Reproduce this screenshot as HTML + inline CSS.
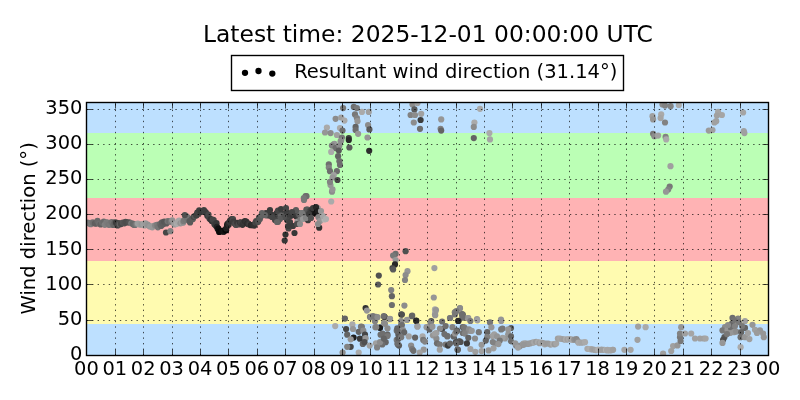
<!DOCTYPE html>
<html><head><meta charset="utf-8"><title>Wind direction</title><style>html,body{margin:0;padding:0;background:#fff;width:800px;height:400px;overflow:hidden}</style></head><body>
<svg width="800" height="400" viewBox="0 0 800 400" style="position:absolute;left:0;top:0">
<rect width="800" height="400" fill="#fff"/>
<defs><clipPath id="ax"><rect x="86.5" y="102.5" width="682" height="253"/></clipPath></defs>
<rect x="86" y="324.00" width="683" height="32.00" fill="#bde0ff"/>
<rect x="86" y="261.00" width="683" height="63.00" fill="#fffbb0"/>
<rect x="86" y="198.00" width="683" height="63.00" fill="#ffb3b4"/>
<rect x="86" y="133.00" width="683" height="65.00" fill="#bbffb5"/>
<rect x="86" y="102.00" width="683" height="31.00" fill="#bde0ff"/>
<g clip-path="url(#ax)">
<circle cx="86.8" cy="222.5" r="3.1" fill="rgb(126,126,126)"/>
<circle cx="88.4" cy="222.8" r="3.1" fill="rgb(117,117,117)"/>
<circle cx="89.3" cy="223.6" r="3.1" fill="rgb(120,120,120)"/>
<circle cx="90.8" cy="224.2" r="3.1" fill="rgb(124,124,124)"/>
<circle cx="92.6" cy="222.3" r="3.1" fill="rgb(116,116,116)"/>
<circle cx="93.4" cy="222.9" r="3.1" fill="rgb(110,110,110)"/>
<circle cx="95.0" cy="223.4" r="3.1" fill="rgb(94,94,94)"/>
<circle cx="96.0" cy="223.6" r="3.1" fill="rgb(95,95,95)"/>
<circle cx="97.5" cy="220.9" r="3.1" fill="rgb(105,105,105)"/>
<circle cx="99.0" cy="223.6" r="3.1" fill="rgb(109,109,109)"/>
<circle cx="100.7" cy="224.5" r="3.1" fill="rgb(97,97,97)"/>
<circle cx="102.2" cy="222.8" r="3.1" fill="rgb(110,110,110)"/>
<circle cx="103.8" cy="221.5" r="3.1" fill="rgb(106,106,106)"/>
<circle cx="104.8" cy="224.8" r="3.1" fill="rgb(128,128,128)"/>
<circle cx="106.4" cy="222.3" r="3.1" fill="rgb(125,125,125)"/>
<circle cx="107.4" cy="222.6" r="3.1" fill="rgb(122,122,122)"/>
<circle cx="108.8" cy="224.8" r="3.1" fill="rgb(119,119,119)"/>
<circle cx="110.3" cy="224.7" r="3.1" fill="rgb(121,121,121)"/>
<circle cx="111.6" cy="222.1" r="3.1" fill="rgb(113,113,113)"/>
<circle cx="113.4" cy="225.0" r="3.1" fill="rgb(101,101,101)"/>
<circle cx="114.7" cy="222.4" r="3.1" fill="rgb(92,92,92)"/>
<circle cx="116.1" cy="222.7" r="3.1" fill="rgb(59,59,59)"/>
<circle cx="117.6" cy="225.4" r="3.1" fill="rgb(66,66,66)"/>
<circle cx="118.9" cy="223.2" r="3.1" fill="rgb(74,74,74)"/>
<circle cx="119.8" cy="224.5" r="3.1" fill="rgb(98,98,98)"/>
<circle cx="121.0" cy="223.9" r="3.1" fill="rgb(72,72,72)"/>
<circle cx="122.8" cy="222.7" r="3.1" fill="rgb(85,85,85)"/>
<circle cx="124.4" cy="223.3" r="3.1" fill="rgb(81,81,81)"/>
<circle cx="125.6" cy="221.8" r="3.1" fill="rgb(77,77,77)"/>
<circle cx="127.1" cy="222.4" r="3.1" fill="rgb(77,77,77)"/>
<circle cx="129.3" cy="222.4" r="3.1" fill="rgb(84,84,84)"/>
<circle cx="131.3" cy="223.3" r="3.1" fill="rgb(121,121,121)"/>
<circle cx="132.7" cy="223.7" r="3.1" fill="rgb(105,105,105)"/>
<circle cx="133.7" cy="224.8" r="3.1" fill="rgb(105,105,105)"/>
<circle cx="135.0" cy="224.9" r="3.1" fill="rgb(110,110,110)"/>
<circle cx="136.5" cy="224.1" r="3.1" fill="rgb(128,128,128)"/>
<circle cx="137.8" cy="223.6" r="3.1" fill="rgb(158,158,158)"/>
<circle cx="139.5" cy="224.5" r="3.1" fill="rgb(158,158,158)"/>
<circle cx="140.7" cy="224.5" r="3.1" fill="rgb(153,153,153)"/>
<circle cx="142.1" cy="224.5" r="3.1" fill="rgb(149,149,149)"/>
<circle cx="143.4" cy="224.2" r="3.1" fill="rgb(160,160,160)"/>
<circle cx="144.5" cy="225.5" r="3.1" fill="rgb(159,159,159)"/>
<circle cx="145.6" cy="223.3" r="3.1" fill="rgb(154,154,154)"/>
<circle cx="147.7" cy="224.7" r="3.1" fill="rgb(148,148,148)"/>
<circle cx="148.7" cy="225.6" r="3.1" fill="rgb(146,146,146)"/>
<circle cx="149.9" cy="226.5" r="3.1" fill="rgb(152,152,152)"/>
<circle cx="151.2" cy="226.5" r="3.1" fill="rgb(154,154,154)"/>
<circle cx="152.3" cy="227.3" r="3.1" fill="rgb(152,152,152)"/>
<circle cx="153.8" cy="225.9" r="3.1" fill="rgb(152,152,152)"/>
<circle cx="155.1" cy="225.5" r="3.1" fill="rgb(135,135,135)"/>
<circle cx="156.8" cy="224.8" r="3.1" fill="rgb(124,124,124)"/>
<circle cx="157.9" cy="227.3" r="3.1" fill="rgb(118,118,118)"/>
<circle cx="159.8" cy="224.0" r="3.1" fill="rgb(106,106,106)"/>
<circle cx="161.1" cy="226.0" r="3.1" fill="rgb(98,98,98)"/>
<circle cx="161.9" cy="222.4" r="3.1" fill="rgb(94,94,94)"/>
<circle cx="163.1" cy="224.3" r="3.1" fill="rgb(94,94,94)"/>
<circle cx="164.2" cy="221.7" r="3.1" fill="rgb(87,87,87)"/>
<circle cx="166.4" cy="223.4" r="3.1" fill="rgb(91,91,91)"/>
<circle cx="167.7" cy="221.2" r="3.1" fill="rgb(117,117,117)"/>
<circle cx="169.3" cy="221.4" r="3.1" fill="rgb(108,108,108)"/>
<circle cx="170.9" cy="221.7" r="3.1" fill="rgb(120,120,120)"/>
<circle cx="172.2" cy="220.4" r="3.1" fill="rgb(145,145,145)"/>
<circle cx="174.3" cy="224.4" r="3.1" fill="rgb(158,158,158)"/>
<circle cx="175.7" cy="224.1" r="3.1" fill="rgb(156,156,156)"/>
<circle cx="176.9" cy="223.8" r="3.1" fill="rgb(170,170,170)"/>
<circle cx="178.0" cy="221.7" r="3.1" fill="rgb(166,166,166)"/>
<circle cx="179.1" cy="220.7" r="3.1" fill="rgb(165,165,165)"/>
<circle cx="180.5" cy="223.3" r="3.1" fill="rgb(145,145,145)"/>
<circle cx="182.3" cy="222.7" r="3.1" fill="rgb(160,160,160)"/>
<circle cx="183.3" cy="222.5" r="3.1" fill="rgb(141,141,141)"/>
<circle cx="183.6" cy="220.9" r="3.1" fill="rgb(122,122,122)"/>
<circle cx="184.8" cy="219.6" r="3.1" fill="rgb(120,120,120)"/>
<circle cx="185.6" cy="219.7" r="3.1" fill="rgb(119,119,119)"/>
<circle cx="186.2" cy="216.1" r="3.1" fill="rgb(122,122,122)"/>
<circle cx="187.0" cy="217.1" r="3.1" fill="rgb(106,106,106)"/>
<circle cx="187.5" cy="217.4" r="3.1" fill="rgb(115,115,115)"/>
<circle cx="188.2" cy="219.6" r="3.1" fill="rgb(115,115,115)"/>
<circle cx="189.5" cy="221.0" r="3.1" fill="rgb(90,90,90)"/>
<circle cx="190.1" cy="222.4" r="3.1" fill="rgb(89,89,89)"/>
<circle cx="191.8" cy="219.1" r="3.1" fill="rgb(90,90,90)"/>
<circle cx="192.9" cy="219.1" r="3.1" fill="rgb(91,91,91)"/>
<circle cx="193.6" cy="216.8" r="3.1" fill="rgb(71,71,71)"/>
<circle cx="194.7" cy="216.1" r="3.1" fill="rgb(86,86,86)"/>
<circle cx="196.3" cy="215.4" r="3.1" fill="rgb(70,70,70)"/>
<circle cx="196.4" cy="215.0" r="3.1" fill="rgb(66,66,66)"/>
<circle cx="197.1" cy="214.8" r="3.1" fill="rgb(66,66,66)"/>
<circle cx="197.3" cy="212.6" r="3.1" fill="rgb(60,60,60)"/>
<circle cx="198.0" cy="212.8" r="3.1" fill="rgb(67,67,67)"/>
<circle cx="199.2" cy="210.3" r="3.1" fill="rgb(61,61,61)"/>
<circle cx="201.1" cy="212.1" r="3.1" fill="rgb(57,57,57)"/>
<circle cx="202.7" cy="211.0" r="3.1" fill="rgb(58,58,58)"/>
<circle cx="203.9" cy="210.0" r="3.1" fill="rgb(64,64,64)"/>
<circle cx="204.7" cy="211.7" r="3.1" fill="rgb(60,60,60)"/>
<circle cx="205.3" cy="212.1" r="3.1" fill="rgb(67,67,67)"/>
<circle cx="205.9" cy="212.7" r="3.1" fill="rgb(61,61,61)"/>
<circle cx="207.3" cy="215.7" r="3.1" fill="rgb(61,61,61)"/>
<circle cx="208.1" cy="216.1" r="3.1" fill="rgb(59,59,59)"/>
<circle cx="208.5" cy="214.6" r="3.1" fill="rgb(72,72,72)"/>
<circle cx="209.4" cy="218.5" r="3.1" fill="rgb(72,72,72)"/>
<circle cx="210.1" cy="218.9" r="3.1" fill="rgb(66,66,66)"/>
<circle cx="210.7" cy="219.3" r="3.1" fill="rgb(51,51,51)"/>
<circle cx="211.7" cy="221.0" r="3.1" fill="rgb(51,51,51)"/>
<circle cx="212.7" cy="219.5" r="3.1" fill="rgb(70,70,70)"/>
<circle cx="213.7" cy="220.2" r="3.1" fill="rgb(68,68,68)"/>
<circle cx="214.4" cy="224.3" r="3.1" fill="rgb(60,60,60)"/>
<circle cx="215.8" cy="225.7" r="3.1" fill="rgb(54,54,54)"/>
<circle cx="216.5" cy="223.2" r="3.1" fill="rgb(55,55,55)"/>
<circle cx="217.0" cy="226.8" r="3.1" fill="rgb(35,35,35)"/>
<circle cx="217.7" cy="228.9" r="3.1" fill="rgb(26,26,26)"/>
<circle cx="217.9" cy="228.7" r="3.1" fill="rgb(37,37,37)"/>
<circle cx="218.3" cy="228.5" r="3.1" fill="rgb(16,16,16)"/>
<circle cx="219.1" cy="232.0" r="3.1" fill="rgb(12,12,12)"/>
<circle cx="220.4" cy="231.4" r="3.1" fill="rgb(11,11,11)"/>
<circle cx="221.9" cy="230.9" r="3.1" fill="rgb(15,15,15)"/>
<circle cx="223.4" cy="231.4" r="3.1" fill="rgb(20,20,20)"/>
<circle cx="223.7" cy="231.7" r="3.1" fill="rgb(21,21,21)"/>
<circle cx="225.1" cy="229.9" r="3.1" fill="rgb(14,14,14)"/>
<circle cx="226.1" cy="230.3" r="3.1" fill="rgb(6,6,6)"/>
<circle cx="226.2" cy="228.5" r="3.1" fill="rgb(31,31,31)"/>
<circle cx="227.0" cy="226.2" r="3.1" fill="rgb(34,34,34)"/>
<circle cx="227.2" cy="224.4" r="3.1" fill="rgb(28,28,28)"/>
<circle cx="228.1" cy="223.4" r="3.1" fill="rgb(36,36,36)"/>
<circle cx="228.7" cy="224.7" r="3.1" fill="rgb(45,45,45)"/>
<circle cx="229.5" cy="221.8" r="3.1" fill="rgb(60,60,60)"/>
<circle cx="230.3" cy="220.4" r="3.1" fill="rgb(48,48,48)"/>
<circle cx="230.7" cy="220.3" r="3.1" fill="rgb(54,54,54)"/>
<circle cx="231.7" cy="219.0" r="3.1" fill="rgb(55,55,55)"/>
<circle cx="233.0" cy="219.0" r="3.1" fill="rgb(72,72,72)"/>
<circle cx="233.6" cy="221.7" r="3.1" fill="rgb(61,61,61)"/>
<circle cx="234.7" cy="223.4" r="3.1" fill="rgb(64,64,64)"/>
<circle cx="235.2" cy="223.9" r="3.1" fill="rgb(72,72,72)"/>
<circle cx="235.9" cy="224.9" r="3.1" fill="rgb(76,76,76)"/>
<circle cx="237.2" cy="222.8" r="3.1" fill="rgb(57,57,57)"/>
<circle cx="238.7" cy="224.4" r="3.1" fill="rgb(73,73,73)"/>
<circle cx="240.0" cy="222.6" r="3.1" fill="rgb(53,53,53)"/>
<circle cx="240.8" cy="222.3" r="3.1" fill="rgb(64,64,64)"/>
<circle cx="242.5" cy="224.8" r="3.1" fill="rgb(52,52,52)"/>
<circle cx="243.8" cy="222.3" r="3.1" fill="rgb(55,55,55)"/>
<circle cx="244.9" cy="221.2" r="3.1" fill="rgb(46,46,46)"/>
<circle cx="246.3" cy="221.7" r="3.1" fill="rgb(51,51,51)"/>
<circle cx="247.3" cy="223.8" r="3.1" fill="rgb(41,41,41)"/>
<circle cx="248.4" cy="223.5" r="3.1" fill="rgb(52,52,52)"/>
<circle cx="249.5" cy="224.7" r="3.1" fill="rgb(62,62,62)"/>
<circle cx="250.9" cy="225.2" r="3.1" fill="rgb(40,40,40)"/>
<circle cx="252.3" cy="225.1" r="3.1" fill="rgb(45,45,45)"/>
<circle cx="254.3" cy="225.6" r="3.1" fill="rgb(50,50,50)"/>
<circle cx="255.4" cy="222.5" r="3.1" fill="rgb(70,70,70)"/>
<circle cx="256.2" cy="221.2" r="3.1" fill="rgb(72,72,72)"/>
<circle cx="257.1" cy="222.2" r="3.1" fill="rgb(66,66,66)"/>
<circle cx="258.2" cy="221.8" r="3.1" fill="rgb(80,80,80)"/>
<circle cx="259.0" cy="217.5" r="3.1" fill="rgb(79,79,79)"/>
<circle cx="259.9" cy="219.0" r="3.1" fill="rgb(88,88,88)"/>
<circle cx="261.1" cy="216.0" r="3.1" fill="rgb(90,90,90)"/>
<circle cx="262.1" cy="215.2" r="3.1" fill="rgb(100,100,100)"/>
<circle cx="263.1" cy="214.1" r="3.1" fill="rgb(105,105,105)"/>
<circle cx="264.1" cy="214.7" r="3.1" fill="rgb(95,95,95)"/>
<circle cx="265.9" cy="215.3" r="3.1" fill="rgb(88,88,88)"/>
<circle cx="267.2" cy="214.2" r="3.1" fill="rgb(72,72,72)"/>
<circle cx="268.3" cy="215.5" r="3.1" fill="rgb(81,81,81)"/>
<circle cx="270.0" cy="215.4" r="3.1" fill="rgb(66,66,66)"/>
<circle cx="271.0" cy="214.5" r="3.1" fill="rgb(76,76,76)"/>
<circle cx="272.0" cy="215.4" r="3.1" fill="rgb(58,58,58)"/>
<circle cx="273.8" cy="215.3" r="3.1" fill="rgb(58,58,58)"/>
<circle cx="274.7" cy="216.4" r="3.1" fill="rgb(66,66,66)"/>
<circle cx="275.7" cy="216.8" r="3.1" fill="rgb(54,54,54)"/>
<circle cx="276.7" cy="213.2" r="3.1" fill="rgb(57,57,57)"/>
<circle cx="278.2" cy="214.9" r="3.1" fill="rgb(62,62,62)"/>
<circle cx="279.0" cy="213.7" r="3.1" fill="rgb(78,78,78)"/>
<circle cx="280.8" cy="214.9" r="3.1" fill="rgb(77,77,77)"/>
<circle cx="281.5" cy="213.6" r="3.1" fill="rgb(70,70,70)"/>
<circle cx="283.0" cy="214.3" r="3.1" fill="rgb(72,72,72)"/>
<circle cx="284.1" cy="214.4" r="3.1" fill="rgb(62,62,62)"/>
<circle cx="285.9" cy="214.2" r="3.1" fill="rgb(77,77,77)"/>
<circle cx="286.9" cy="212.2" r="3.1" fill="rgb(61,61,61)"/>
<circle cx="288.1" cy="214.8" r="3.1" fill="rgb(67,67,67)"/>
<circle cx="288.8" cy="215.4" r="3.1" fill="rgb(66,66,66)"/>
<circle cx="290.1" cy="215.9" r="3.1" fill="rgb(58,58,58)"/>
<circle cx="291.4" cy="215.6" r="3.1" fill="rgb(67,67,67)"/>
<circle cx="292.4" cy="214.9" r="3.1" fill="rgb(58,58,58)"/>
<circle cx="293.6" cy="213.2" r="3.1" fill="rgb(64,64,64)"/>
<circle cx="294.9" cy="214.8" r="3.1" fill="rgb(63,63,63)"/>
<circle cx="296.4" cy="216.5" r="3.1" fill="rgb(51,51,51)"/>
<circle cx="297.4" cy="215.0" r="3.1" fill="rgb(61,61,61)"/>
<circle cx="298.1" cy="213.0" r="3.1" fill="rgb(74,74,74)"/>
<circle cx="299.4" cy="215.1" r="3.1" fill="rgb(93,93,93)"/>
<circle cx="300.8" cy="213.7" r="3.1" fill="rgb(101,101,101)"/>
<circle cx="302.0" cy="213.1" r="3.1" fill="rgb(120,120,120)"/>
<circle cx="303.0" cy="213.2" r="3.1" fill="rgb(106,106,106)"/>
<circle cx="304.2" cy="213.6" r="3.1" fill="rgb(118,118,118)"/>
<circle cx="305.3" cy="212.6" r="3.1" fill="rgb(102,102,102)"/>
<circle cx="306.4" cy="209.6" r="3.1" fill="rgb(86,86,86)"/>
<circle cx="307.8" cy="209.7" r="3.1" fill="rgb(89,89,89)"/>
<circle cx="309.7" cy="211.2" r="3.1" fill="rgb(74,74,74)"/>
<circle cx="311.1" cy="210.4" r="3.1" fill="rgb(62,62,62)"/>
<circle cx="312.7" cy="210.8" r="3.1" fill="rgb(42,42,42)"/>
<circle cx="313.8" cy="212.8" r="3.1" fill="rgb(36,36,36)"/>
<circle cx="314.4" cy="212.8" r="3.1" fill="rgb(32,32,32)"/>
<circle cx="315.5" cy="213.5" r="3.1" fill="rgb(20,20,20)"/>
<circle cx="516.0" cy="345.4" r="3.1" fill="rgb(133,133,133)"/>
<circle cx="518.4" cy="345.9" r="3.1" fill="rgb(144,144,144)"/>
<circle cx="519.8" cy="346.3" r="3.1" fill="rgb(142,142,142)"/>
<circle cx="521.8" cy="345.0" r="3.1" fill="rgb(143,143,143)"/>
<circle cx="523.4" cy="343.7" r="3.1" fill="rgb(159,159,159)"/>
<circle cx="525.5" cy="343.3" r="3.1" fill="rgb(160,160,160)"/>
<circle cx="527.8" cy="343.9" r="3.1" fill="rgb(152,152,152)"/>
<circle cx="529.9" cy="343.4" r="3.1" fill="rgb(153,153,153)"/>
<circle cx="532.5" cy="342.7" r="3.1" fill="rgb(155,155,155)"/>
<circle cx="534.1" cy="342.3" r="3.1" fill="rgb(167,167,167)"/>
<circle cx="536.1" cy="341.8" r="3.1" fill="rgb(154,154,154)"/>
<circle cx="538.1" cy="342.2" r="3.1" fill="rgb(170,170,170)"/>
<circle cx="539.6" cy="343.2" r="3.1" fill="rgb(156,156,156)"/>
<circle cx="541.0" cy="342.6" r="3.1" fill="rgb(167,167,167)"/>
<circle cx="543.0" cy="343.1" r="3.1" fill="rgb(151,151,151)"/>
<circle cx="544.7" cy="344.3" r="3.1" fill="rgb(165,165,165)"/>
<circle cx="545.9" cy="343.5" r="3.1" fill="rgb(155,155,155)"/>
<circle cx="548.1" cy="343.5" r="3.1" fill="rgb(154,154,154)"/>
<circle cx="550.5" cy="344.6" r="3.1" fill="rgb(157,157,157)"/>
<circle cx="552.9" cy="344.1" r="3.1" fill="rgb(172,172,172)"/>
<circle cx="554.7" cy="344.3" r="3.1" fill="rgb(153,153,153)"/>
<circle cx="556.2" cy="343.5" r="3.1" fill="rgb(165,165,165)"/>
<circle cx="557.9" cy="338.6" r="3.1" fill="rgb(160,160,160)"/>
<circle cx="560.0" cy="338.6" r="3.1" fill="rgb(165,165,165)"/>
<circle cx="562.2" cy="339.0" r="3.1" fill="rgb(161,161,161)"/>
<circle cx="564.3" cy="339.6" r="3.1" fill="rgb(157,157,157)"/>
<circle cx="566.0" cy="339.4" r="3.1" fill="rgb(173,173,173)"/>
<circle cx="567.5" cy="339.6" r="3.1" fill="rgb(161,161,161)"/>
<circle cx="569.1" cy="339.0" r="3.1" fill="rgb(171,171,171)"/>
<circle cx="570.8" cy="339.3" r="3.1" fill="rgb(157,157,157)"/>
<circle cx="572.7" cy="339.9" r="3.1" fill="rgb(170,170,170)"/>
<circle cx="574.3" cy="339.7" r="3.1" fill="rgb(144,144,144)"/>
<circle cx="576.4" cy="339.2" r="3.1" fill="rgb(139,139,139)"/>
<circle cx="577.7" cy="341.2" r="3.1" fill="rgb(142,142,142)"/>
<circle cx="578.5" cy="342.7" r="3.1" fill="rgb(168,168,168)"/>
<circle cx="581.1" cy="342.7" r="3.1" fill="rgb(165,165,165)"/>
<circle cx="583.2" cy="342.5" r="3.1" fill="rgb(164,164,164)"/>
<circle cx="585.0" cy="342.2" r="3.1" fill="rgb(170,170,170)"/>
<circle cx="587.4" cy="348.8" r="3.1" fill="rgb(167,167,167)"/>
<circle cx="589.5" cy="349.0" r="3.1" fill="rgb(171,171,171)"/>
<circle cx="590.5" cy="349.2" r="3.1" fill="rgb(173,173,173)"/>
<circle cx="592.3" cy="349.4" r="3.1" fill="rgb(161,161,161)"/>
<circle cx="594.5" cy="349.8" r="3.1" fill="rgb(158,158,158)"/>
<circle cx="596.0" cy="350.1" r="3.1" fill="rgb(163,163,163)"/>
<circle cx="598.2" cy="349.7" r="3.1" fill="rgb(176,176,176)"/>
<circle cx="600.1" cy="350.0" r="3.1" fill="rgb(170,170,170)"/>
<circle cx="601.6" cy="349.7" r="3.1" fill="rgb(159,159,159)"/>
<circle cx="604.0" cy="349.8" r="3.1" fill="rgb(158,158,158)"/>
<circle cx="606.0" cy="350.0" r="3.1" fill="rgb(179,179,179)"/>
<circle cx="607.2" cy="350.4" r="3.1" fill="rgb(163,163,163)"/>
<circle cx="609.4" cy="350.3" r="3.1" fill="rgb(171,171,171)"/>
<circle cx="611.0" cy="350.3" r="3.1" fill="rgb(162,162,162)"/>
<circle cx="612.5" cy="349.8" r="3.1" fill="rgb(165,165,165)"/>
<circle cx="166.0" cy="232.5" r="3.1" fill="rgb(70,70,70)"/>
<circle cx="170.4" cy="231.2" r="3.1" fill="rgb(130,130,130)"/>
<circle cx="278.0" cy="221.7" r="3.1" fill="rgb(90,90,90)"/>
<circle cx="281.0" cy="215.7" r="3.1" fill="rgb(100,100,100)"/>
<circle cx="288.5" cy="228.5" r="3.1" fill="rgb(70,70,70)"/>
<circle cx="291.5" cy="225.5" r="3.1" fill="rgb(80,80,80)"/>
<circle cx="285.5" cy="234.5" r="3.1" fill="rgb(50,50,50)"/>
<circle cx="284.7" cy="240.5" r="3.1" fill="rgb(55,55,55)"/>
<circle cx="294.5" cy="233.0" r="3.1" fill="rgb(55,55,55)"/>
<circle cx="297.5" cy="221.7" r="3.1" fill="rgb(150,150,150)"/>
<circle cx="300.5" cy="219.5" r="3.1" fill="rgb(120,120,120)"/>
<circle cx="304.0" cy="200.0" r="3.1" fill="rgb(120,120,120)"/>
<circle cx="306.5" cy="196.2" r="3.1" fill="rgb(110,110,110)"/>
<circle cx="308.0" cy="220.2" r="3.1" fill="rgb(60,60,60)"/>
<circle cx="317.7" cy="208.2" r="3.1" fill="rgb(150,150,150)"/>
<circle cx="318.5" cy="217.2" r="3.1" fill="rgb(130,130,130)"/>
<circle cx="320.0" cy="221.0" r="3.1" fill="rgb(150,150,150)"/>
<circle cx="324.5" cy="219.5" r="3.1" fill="rgb(180,180,180)"/>
<circle cx="319.2" cy="227.7" r="3.1" fill="rgb(50,50,50)"/>
<circle cx="332.0" cy="191.7" r="3.1" fill="rgb(140,140,140)"/>
<circle cx="331.2" cy="201.5" r="3.1" fill="rgb(170,170,170)"/>
<circle cx="330.5" cy="185.0" r="3.1" fill="rgb(150,150,150)"/>
<circle cx="184.8" cy="215.0" r="3.1" fill="rgb(80,80,80)"/>
<circle cx="305.6" cy="196.2" r="3.1" fill="rgb(110,110,110)"/>
<circle cx="303.8" cy="198.1" r="3.1" fill="rgb(120,120,120)"/>
<circle cx="270.0" cy="210.0" r="3.1" fill="rgb(60,60,60)"/>
<circle cx="272.0" cy="217.0" r="3.1" fill="rgb(70,70,70)"/>
<circle cx="278.0" cy="210.5" r="3.1" fill="rgb(70,70,70)"/>
<circle cx="266.0" cy="213.0" r="3.1" fill="rgb(60,60,60)"/>
<circle cx="287.0" cy="220.0" r="3.1" fill="rgb(70,70,70)"/>
<circle cx="290.0" cy="222.0" r="3.1" fill="rgb(65,65,65)"/>
<circle cx="293.0" cy="226.0" r="3.1" fill="rgb(60,60,60)"/>
<circle cx="288.0" cy="226.0" r="3.1" fill="rgb(60,60,60)"/>
<circle cx="297.0" cy="224.0" r="3.1" fill="rgb(75,75,75)"/>
<circle cx="300.0" cy="224.0" r="3.1" fill="rgb(140,140,140)"/>
<circle cx="303.0" cy="219.0" r="3.1" fill="rgb(150,150,150)"/>
<circle cx="306.0" cy="218.0" r="3.1" fill="rgb(130,130,130)"/>
<circle cx="302.0" cy="213.0" r="3.1" fill="rgb(120,120,120)"/>
<circle cx="296.0" cy="210.0" r="3.1" fill="rgb(90,90,90)"/>
<circle cx="292.0" cy="212.0" r="3.1" fill="rgb(70,70,70)"/>
<circle cx="284.0" cy="217.0" r="3.1" fill="rgb(80,80,80)"/>
<circle cx="280.0" cy="219.0" r="3.1" fill="rgb(90,90,90)"/>
<circle cx="275.0" cy="220.0" r="3.1" fill="rgb(70,70,70)"/>
<circle cx="281.0" cy="209.0" r="3.1" fill="rgb(60,60,60)"/>
<circle cx="286.0" cy="208.0" r="3.1" fill="rgb(70,70,70)"/>
<circle cx="309.0" cy="214.0" r="3.1" fill="rgb(60,60,60)"/>
<circle cx="311.0" cy="218.0" r="3.1" fill="rgb(80,80,80)"/>
<circle cx="313.0" cy="208.0" r="3.1" fill="rgb(60,60,60)"/>
<circle cx="316.0" cy="207.0" r="3.1" fill="rgb(40,40,40)"/>
<circle cx="318.0" cy="211.0" r="3.1" fill="rgb(30,30,30)"/>
<circle cx="321.0" cy="211.0" r="3.1" fill="rgb(150,150,150)"/>
<circle cx="323.0" cy="216.0" r="3.1" fill="rgb(165,165,165)"/>
<circle cx="326.0" cy="219.0" r="3.1" fill="rgb(175,175,175)"/>
<circle cx="318.0" cy="224.0" r="3.1" fill="rgb(140,140,140)"/>
<circle cx="277.0" cy="222.0" r="3.1" fill="rgb(100,100,100)"/>
<circle cx="262.0" cy="213.0" r="3.1" fill="rgb(100,100,100)"/>
<circle cx="265.0" cy="215.0" r="3.1" fill="rgb(100,100,100)"/>
<circle cx="343.1" cy="108.1" r="3.1" fill="rgb(120,120,120)"/>
<circle cx="353.8" cy="106.9" r="3.1" fill="rgb(110,110,110)"/>
<circle cx="356.9" cy="108.1" r="3.1" fill="rgb(120,120,120)"/>
<circle cx="361.9" cy="111.9" r="3.1" fill="rgb(170,170,170)"/>
<circle cx="368.8" cy="111.9" r="3.1" fill="rgb(160,160,160)"/>
<circle cx="355.0" cy="114.4" r="3.1" fill="rgb(120,120,120)"/>
<circle cx="356.9" cy="118.1" r="3.1" fill="rgb(130,130,130)"/>
<circle cx="357.5" cy="121.2" r="3.1" fill="rgb(150,150,150)"/>
<circle cx="335.6" cy="118.8" r="3.1" fill="rgb(140,140,140)"/>
<circle cx="341.2" cy="117.5" r="3.1" fill="rgb(160,160,160)"/>
<circle cx="344.4" cy="120.6" r="3.1" fill="rgb(170,170,170)"/>
<circle cx="326.9" cy="127.5" r="3.1" fill="rgb(170,170,170)"/>
<circle cx="325.0" cy="132.5" r="3.1" fill="rgb(150,150,150)"/>
<circle cx="330.6" cy="133.1" r="3.1" fill="rgb(140,140,140)"/>
<circle cx="340.0" cy="128.1" r="3.1" fill="rgb(170,170,170)"/>
<circle cx="342.5" cy="130.6" r="3.1" fill="rgb(110,110,110)"/>
<circle cx="355.6" cy="126.9" r="3.1" fill="rgb(100,100,100)"/>
<circle cx="355.6" cy="130.0" r="3.1" fill="rgb(110,110,110)"/>
<circle cx="358.1" cy="133.8" r="3.1" fill="rgb(150,150,150)"/>
<circle cx="368.1" cy="125.0" r="3.1" fill="rgb(140,140,140)"/>
<circle cx="369.4" cy="129.4" r="3.1" fill="rgb(90,90,90)"/>
<circle cx="336.9" cy="135.0" r="3.1" fill="rgb(160,160,160)"/>
<circle cx="341.9" cy="137.5" r="3.1" fill="rgb(120,120,120)"/>
<circle cx="348.8" cy="138.1" r="3.1" fill="rgb(60,60,60)"/>
<circle cx="340.6" cy="141.2" r="3.1" fill="rgb(150,150,150)"/>
<circle cx="367.5" cy="137.5" r="3.1" fill="rgb(150,150,150)"/>
<circle cx="333.8" cy="144.4" r="3.1" fill="rgb(150,150,150)"/>
<circle cx="338.8" cy="146.2" r="3.1" fill="rgb(130,130,130)"/>
<circle cx="349.4" cy="147.5" r="3.1" fill="rgb(90,90,90)"/>
<circle cx="369.2" cy="150.8" r="3.1" fill="rgb(45,45,45)"/>
<circle cx="334.4" cy="143.8" r="3.1" fill="rgb(150,150,150)"/>
<circle cx="331.9" cy="145.6" r="3.1" fill="rgb(130,130,130)"/>
<circle cx="335.6" cy="148.1" r="3.1" fill="rgb(110,110,110)"/>
<circle cx="339.4" cy="145.6" r="3.1" fill="rgb(140,140,140)"/>
<circle cx="338.8" cy="150.6" r="3.1" fill="rgb(90,90,90)"/>
<circle cx="331.2" cy="151.9" r="3.1" fill="rgb(170,170,170)"/>
<circle cx="348.8" cy="140.0" r="3.1" fill="rgb(40,40,40)"/>
<circle cx="341.2" cy="140.6" r="3.1" fill="rgb(140,140,140)"/>
<circle cx="338.1" cy="156.2" r="3.1" fill="rgb(100,100,100)"/>
<circle cx="339.4" cy="161.2" r="3.1" fill="rgb(110,110,110)"/>
<circle cx="340.0" cy="165.0" r="3.1" fill="rgb(110,110,110)"/>
<circle cx="328.8" cy="164.4" r="3.1" fill="rgb(110,110,110)"/>
<circle cx="328.8" cy="167.5" r="3.1" fill="rgb(130,130,130)"/>
<circle cx="330.0" cy="171.2" r="3.1" fill="rgb(110,110,110)"/>
<circle cx="336.9" cy="171.2" r="3.1" fill="rgb(110,110,110)"/>
<circle cx="333.8" cy="175.0" r="3.1" fill="rgb(160,160,160)"/>
<circle cx="332.5" cy="177.5" r="3.1" fill="rgb(150,150,150)"/>
<circle cx="337.5" cy="180.0" r="3.1" fill="rgb(70,70,70)"/>
<circle cx="330.0" cy="181.9" r="3.1" fill="rgb(130,130,130)"/>
<circle cx="332.5" cy="189.4" r="3.1" fill="rgb(150,150,150)"/>
<circle cx="405.6" cy="251.2" r="3.1" fill="rgb(80,80,80)"/>
<circle cx="395.6" cy="253.8" r="3.1" fill="rgb(110,110,110)"/>
<circle cx="393.1" cy="255.6" r="3.1" fill="rgb(120,120,120)"/>
<circle cx="395.6" cy="260.0" r="3.1" fill="rgb(150,150,150)"/>
<circle cx="395.0" cy="264.4" r="3.1" fill="rgb(40,40,40)"/>
<circle cx="392.5" cy="268.1" r="3.1" fill="rgb(70,70,70)"/>
<circle cx="393.1" cy="269.4" r="3.1" fill="rgb(90,90,90)"/>
<circle cx="378.8" cy="275.6" r="3.1" fill="rgb(80,80,80)"/>
<circle cx="378.1" cy="284.5" r="3.1" fill="rgb(90,90,90)"/>
<circle cx="407.5" cy="271.2" r="3.1" fill="rgb(150,150,150)"/>
<circle cx="405.6" cy="275.0" r="3.1" fill="rgb(140,140,140)"/>
<circle cx="405.0" cy="280.0" r="3.1" fill="rgb(130,130,130)"/>
<circle cx="434.4" cy="268.1" r="3.1" fill="rgb(160,160,160)"/>
<circle cx="391.2" cy="290.0" r="3.1" fill="rgb(130,130,130)"/>
<circle cx="391.9" cy="296.2" r="3.1" fill="rgb(100,100,100)"/>
<circle cx="391.9" cy="305.0" r="3.1" fill="rgb(110,110,110)"/>
<circle cx="404.4" cy="305.6" r="3.1" fill="rgb(140,140,140)"/>
<circle cx="433.8" cy="297.5" r="3.1" fill="rgb(150,150,150)"/>
<circle cx="365.6" cy="308.1" r="3.1" fill="rgb(50,50,50)"/>
<circle cx="366.9" cy="310.6" r="3.1" fill="rgb(150,150,150)"/>
<circle cx="435.0" cy="309.4" r="3.1" fill="rgb(170,170,170)"/>
<circle cx="435.0" cy="314.4" r="3.1" fill="rgb(140,140,140)"/>
<circle cx="401.2" cy="314.4" r="3.1" fill="rgb(80,80,80)"/>
<circle cx="411.9" cy="316.2" r="3.1" fill="rgb(100,100,100)"/>
<circle cx="370.0" cy="316.9" r="3.1" fill="rgb(120,120,120)"/>
<circle cx="376.2" cy="317.5" r="3.1" fill="rgb(120,120,120)"/>
<circle cx="384.4" cy="316.9" r="3.1" fill="rgb(70,70,70)"/>
<circle cx="390.0" cy="318.8" r="3.1" fill="rgb(160,160,160)"/>
<circle cx="375.0" cy="321.2" r="3.1" fill="rgb(130,130,130)"/>
<circle cx="406.9" cy="320.0" r="3.1" fill="rgb(170,170,170)"/>
<circle cx="416.2" cy="320.6" r="3.1" fill="rgb(50,50,50)"/>
<circle cx="401.2" cy="321.2" r="3.1" fill="rgb(140,140,140)"/>
<circle cx="431.2" cy="321.2" r="3.1" fill="rgb(80,80,80)"/>
<circle cx="361.9" cy="326.9" r="3.1" fill="rgb(120,120,120)"/>
<circle cx="380.0" cy="327.5" r="3.1" fill="rgb(30,30,30)"/>
<circle cx="385.0" cy="323.8" r="3.1" fill="rgb(140,140,140)"/>
<circle cx="401.2" cy="325.0" r="3.1" fill="rgb(100,100,100)"/>
<circle cx="417.5" cy="326.2" r="3.1" fill="rgb(150,150,150)"/>
<circle cx="430.0" cy="326.2" r="3.1" fill="rgb(120,120,120)"/>
<circle cx="344.9" cy="318.6" r="3.1" fill="rgb(100,100,100)"/>
<circle cx="335.2" cy="326.1" r="3.1" fill="rgb(170,170,170)"/>
<circle cx="346.1" cy="329.0" r="3.1" fill="rgb(70,70,70)"/>
<circle cx="352.4" cy="324.4" r="3.1" fill="rgb(170,170,170)"/>
<circle cx="353.0" cy="329.0" r="3.1" fill="rgb(150,150,150)"/>
<circle cx="347.2" cy="334.7" r="3.1" fill="rgb(100,100,100)"/>
<circle cx="353.6" cy="337.6" r="3.1" fill="rgb(30,30,30)"/>
<circle cx="350.7" cy="339.3" r="3.1" fill="rgb(150,150,150)"/>
<circle cx="361.0" cy="326.7" r="3.1" fill="rgb(120,120,120)"/>
<circle cx="358.7" cy="331.8" r="3.1" fill="rgb(100,100,100)"/>
<circle cx="363.3" cy="330.7" r="3.1" fill="rgb(140,140,140)"/>
<circle cx="359.9" cy="338.7" r="3.1" fill="rgb(60,60,60)"/>
<circle cx="365.0" cy="334.7" r="3.1" fill="rgb(70,70,70)"/>
<circle cx="365.6" cy="338.2" r="3.1" fill="rgb(150,150,150)"/>
<circle cx="362.8" cy="343.9" r="3.1" fill="rgb(100,100,100)"/>
<circle cx="364.5" cy="342.2" r="3.1" fill="rgb(80,80,80)"/>
<circle cx="350.7" cy="346.8" r="3.1" fill="rgb(70,70,70)"/>
<circle cx="347.2" cy="346.8" r="3.1" fill="rgb(130,130,130)"/>
<circle cx="342.6" cy="352.5" r="3.1" fill="rgb(140,140,140)"/>
<circle cx="358.7" cy="352.5" r="3.1" fill="rgb(170,170,170)"/>
<circle cx="369.7" cy="345.6" r="3.1" fill="rgb(160,160,160)"/>
<circle cx="370.8" cy="316.9" r="3.1" fill="rgb(130,130,130)"/>
<circle cx="376.0" cy="316.9" r="3.1" fill="rgb(120,120,120)"/>
<circle cx="384.6" cy="316.9" r="3.1" fill="rgb(70,70,70)"/>
<circle cx="389.8" cy="319.2" r="3.1" fill="rgb(160,160,160)"/>
<circle cx="375.4" cy="327.2" r="3.1" fill="rgb(140,140,140)"/>
<circle cx="380.0" cy="327.8" r="3.1" fill="rgb(30,30,30)"/>
<circle cx="384.0" cy="323.2" r="3.1" fill="rgb(140,140,140)"/>
<circle cx="387.5" cy="328.4" r="3.1" fill="rgb(140,140,140)"/>
<circle cx="380.6" cy="334.7" r="3.1" fill="rgb(110,110,110)"/>
<circle cx="387.5" cy="334.7" r="3.1" fill="rgb(100,100,100)"/>
<circle cx="385.7" cy="342.2" r="3.1" fill="rgb(100,100,100)"/>
<circle cx="382.3" cy="344.5" r="3.1" fill="rgb(110,110,110)"/>
<circle cx="376.0" cy="343.3" r="3.1" fill="rgb(160,160,160)"/>
<circle cx="377.1" cy="347.4" r="3.1" fill="rgb(130,130,130)"/>
<circle cx="396.7" cy="330.7" r="3.1" fill="rgb(120,120,120)"/>
<circle cx="396.7" cy="339.9" r="3.1" fill="rgb(120,120,120)"/>
<circle cx="397.8" cy="344.5" r="3.1" fill="rgb(100,100,100)"/>
<circle cx="401.9" cy="314.6" r="3.1" fill="rgb(80,80,80)"/>
<circle cx="412.2" cy="315.7" r="3.1" fill="rgb(100,100,100)"/>
<circle cx="407.1" cy="319.8" r="3.1" fill="rgb(150,150,150)"/>
<circle cx="416.3" cy="320.9" r="3.1" fill="rgb(40,40,40)"/>
<circle cx="401.3" cy="321.5" r="3.1" fill="rgb(140,140,140)"/>
<circle cx="401.9" cy="325.0" r="3.1" fill="rgb(110,110,110)"/>
<circle cx="417.4" cy="326.7" r="3.1" fill="rgb(160,160,160)"/>
<circle cx="397.3" cy="328.4" r="3.1" fill="rgb(100,100,100)"/>
<circle cx="403.0" cy="330.1" r="3.1" fill="rgb(140,140,140)"/>
<circle cx="404.2" cy="332.4" r="3.1" fill="rgb(100,100,100)"/>
<circle cx="398.4" cy="334.7" r="3.1" fill="rgb(90,90,90)"/>
<circle cx="398.4" cy="338.7" r="3.1" fill="rgb(90,90,90)"/>
<circle cx="408.8" cy="336.4" r="3.1" fill="rgb(160,160,160)"/>
<circle cx="415.1" cy="337.6" r="3.1" fill="rgb(100,100,100)"/>
<circle cx="422.6" cy="336.4" r="3.1" fill="rgb(170,170,170)"/>
<circle cx="423.2" cy="339.9" r="3.1" fill="rgb(120,120,120)"/>
<circle cx="424.9" cy="341.6" r="3.1" fill="rgb(130,130,130)"/>
<circle cx="399.0" cy="345.6" r="3.1" fill="rgb(90,90,90)"/>
<circle cx="411.1" cy="345.6" r="3.1" fill="rgb(140,140,140)"/>
<circle cx="412.2" cy="349.1" r="3.1" fill="rgb(120,120,120)"/>
<circle cx="413.4" cy="350.8" r="3.1" fill="rgb(110,110,110)"/>
<circle cx="423.7" cy="349.7" r="3.1" fill="rgb(150,150,150)"/>
<circle cx="419.7" cy="352.5" r="3.1" fill="rgb(160,160,160)"/>
<circle cx="435.2" cy="312.3" r="3.1" fill="rgb(170,170,170)"/>
<circle cx="435.2" cy="315.2" r="3.1" fill="rgb(150,150,150)"/>
<circle cx="430.6" cy="322.6" r="3.1" fill="rgb(130,130,130)"/>
<circle cx="426.6" cy="327.2" r="3.1" fill="rgb(150,150,150)"/>
<circle cx="429.5" cy="329.5" r="3.1" fill="rgb(100,100,100)"/>
<circle cx="432.4" cy="326.7" r="3.1" fill="rgb(150,150,150)"/>
<circle cx="432.9" cy="335.3" r="3.1" fill="rgb(150,150,150)"/>
<circle cx="436.4" cy="333.0" r="3.1" fill="rgb(160,160,160)"/>
<circle cx="436.4" cy="338.7" r="3.1" fill="rgb(140,140,140)"/>
<circle cx="437.0" cy="343.3" r="3.1" fill="rgb(110,110,110)"/>
<circle cx="439.8" cy="344.5" r="3.1" fill="rgb(120,120,120)"/>
<circle cx="439.8" cy="349.7" r="3.1" fill="rgb(160,160,160)"/>
<circle cx="442.1" cy="321.5" r="3.1" fill="rgb(110,110,110)"/>
<circle cx="442.1" cy="329.0" r="3.1" fill="rgb(70,70,70)"/>
<circle cx="445.6" cy="326.1" r="3.1" fill="rgb(110,110,110)"/>
<circle cx="444.4" cy="334.1" r="3.1" fill="rgb(110,110,110)"/>
<circle cx="447.3" cy="336.4" r="3.1" fill="rgb(120,120,120)"/>
<circle cx="445.6" cy="344.5" r="3.1" fill="rgb(120,120,120)"/>
<circle cx="447.9" cy="345.6" r="3.1" fill="rgb(60,60,60)"/>
<circle cx="450.2" cy="318.0" r="3.1" fill="rgb(150,150,150)"/>
<circle cx="454.8" cy="312.3" r="3.1" fill="rgb(120,120,120)"/>
<circle cx="458.2" cy="320.9" r="3.1" fill="rgb(40,40,40)"/>
<circle cx="452.5" cy="327.2" r="3.1" fill="rgb(130,130,130)"/>
<circle cx="453.6" cy="336.4" r="3.1" fill="rgb(100,100,100)"/>
<circle cx="457.1" cy="330.7" r="3.1" fill="rgb(90,90,90)"/>
<circle cx="459.4" cy="341.0" r="3.1" fill="rgb(100,100,100)"/>
<circle cx="455.9" cy="342.2" r="3.1" fill="rgb(70,70,70)"/>
<circle cx="457.6" cy="349.7" r="3.1" fill="rgb(80,80,80)"/>
<circle cx="462.8" cy="314.6" r="3.1" fill="rgb(90,90,90)"/>
<circle cx="462.8" cy="327.2" r="3.1" fill="rgb(100,100,100)"/>
<circle cx="462.8" cy="333.0" r="3.1" fill="rgb(110,110,110)"/>
<circle cx="460.0" cy="308.0" r="3.1" fill="rgb(140,140,140)"/>
<circle cx="455.5" cy="312.0" r="3.1" fill="rgb(130,130,130)"/>
<circle cx="455.0" cy="314.5" r="3.1" fill="rgb(120,120,120)"/>
<circle cx="462.0" cy="314.5" r="3.1" fill="rgb(100,100,100)"/>
<circle cx="462.5" cy="317.5" r="3.1" fill="rgb(100,100,100)"/>
<circle cx="450.0" cy="318.0" r="3.1" fill="rgb(120,120,120)"/>
<circle cx="436.0" cy="310.0" r="3.1" fill="rgb(150,150,150)"/>
<circle cx="468.0" cy="318.0" r="3.1" fill="rgb(150,150,150)"/>
<circle cx="477.0" cy="319.0" r="3.1" fill="rgb(150,150,150)"/>
<circle cx="501.0" cy="319.5" r="3.1" fill="rgb(150,150,150)"/>
<circle cx="373.0" cy="316.0" r="3.1" fill="rgb(120,120,120)"/>
<circle cx="377.5" cy="317.2" r="3.1" fill="rgb(140,140,140)"/>
<circle cx="383.8" cy="316.0" r="3.1" fill="rgb(110,110,110)"/>
<circle cx="390.0" cy="319.0" r="3.1" fill="rgb(150,150,150)"/>
<circle cx="376.2" cy="327.2" r="3.1" fill="rgb(130,130,130)"/>
<circle cx="382.5" cy="333.5" r="3.1" fill="rgb(110,110,110)"/>
<circle cx="387.5" cy="336.0" r="3.1" fill="rgb(120,120,120)"/>
<circle cx="380.0" cy="342.2" r="3.1" fill="rgb(140,140,140)"/>
<circle cx="383.8" cy="338.5" r="3.1" fill="rgb(100,100,100)"/>
<circle cx="397.5" cy="331.0" r="3.1" fill="rgb(100,100,100)"/>
<circle cx="401.2" cy="337.2" r="3.1" fill="rgb(120,120,120)"/>
<circle cx="397.5" cy="343.5" r="3.1" fill="rgb(110,110,110)"/>
<circle cx="435.0" cy="333.5" r="3.1" fill="rgb(160,160,160)"/>
<circle cx="440.0" cy="328.5" r="3.1" fill="rgb(140,140,140)"/>
<circle cx="447.5" cy="336.0" r="3.1" fill="rgb(110,110,110)"/>
<circle cx="450.0" cy="343.5" r="3.1" fill="rgb(100,100,100)"/>
<circle cx="455.0" cy="333.5" r="3.1" fill="rgb(150,150,150)"/>
<circle cx="465.0" cy="328.5" r="3.1" fill="rgb(130,130,130)"/>
<circle cx="470.0" cy="331.0" r="3.1" fill="rgb(150,150,150)"/>
<circle cx="475.0" cy="338.5" r="3.1" fill="rgb(140,140,140)"/>
<circle cx="492.5" cy="336.0" r="3.1" fill="rgb(160,160,160)"/>
<circle cx="502.5" cy="328.5" r="3.1" fill="rgb(120,120,120)"/>
<circle cx="505.0" cy="338.5" r="3.1" fill="rgb(150,150,150)"/>
<circle cx="495.0" cy="343.5" r="3.1" fill="rgb(140,140,140)"/>
<circle cx="459.9" cy="308.4" r="3.1" fill="rgb(140,140,140)"/>
<circle cx="456.4" cy="311.2" r="3.1" fill="rgb(120,120,120)"/>
<circle cx="462.0" cy="314.0" r="3.1" fill="rgb(110,110,110)"/>
<circle cx="462.7" cy="317.5" r="3.1" fill="rgb(110,110,110)"/>
<circle cx="458.5" cy="321.0" r="3.1" fill="rgb(40,40,40)"/>
<circle cx="468.3" cy="318.2" r="3.1" fill="rgb(150,150,150)"/>
<circle cx="470.4" cy="321.0" r="3.1" fill="rgb(120,120,120)"/>
<circle cx="477.4" cy="320.3" r="3.1" fill="rgb(160,160,160)"/>
<circle cx="490.0" cy="322.4" r="3.1" fill="rgb(120,120,120)"/>
<circle cx="501.2" cy="321.0" r="3.1" fill="rgb(150,150,150)"/>
<circle cx="491.4" cy="327.3" r="3.1" fill="rgb(150,150,150)"/>
<circle cx="501.2" cy="329.4" r="3.1" fill="rgb(120,120,120)"/>
<circle cx="511.0" cy="328.0" r="3.1" fill="rgb(90,90,90)"/>
<circle cx="508.2" cy="329.4" r="3.1" fill="rgb(150,150,150)"/>
<circle cx="464.1" cy="327.3" r="3.1" fill="rgb(120,120,120)"/>
<circle cx="469.0" cy="329.4" r="3.1" fill="rgb(140,140,140)"/>
<circle cx="471.8" cy="330.8" r="3.1" fill="rgb(150,150,150)"/>
<circle cx="464.8" cy="333.6" r="3.1" fill="rgb(130,130,130)"/>
<circle cx="456.4" cy="331.5" r="3.1" fill="rgb(110,110,110)"/>
<circle cx="478.8" cy="332.2" r="3.1" fill="rgb(120,120,120)"/>
<circle cx="487.2" cy="332.2" r="3.1" fill="rgb(100,100,100)"/>
<circle cx="487.2" cy="337.1" r="3.1" fill="rgb(130,130,130)"/>
<circle cx="494.2" cy="334.3" r="3.1" fill="rgb(160,160,160)"/>
<circle cx="497.0" cy="336.4" r="3.1" fill="rgb(150,150,150)"/>
<circle cx="502.6" cy="337.8" r="3.1" fill="rgb(160,160,160)"/>
<circle cx="508.2" cy="334.3" r="3.1" fill="rgb(150,150,150)"/>
<circle cx="511.0" cy="336.4" r="3.1" fill="rgb(100,100,100)"/>
<circle cx="468.3" cy="337.8" r="3.1" fill="rgb(100,100,100)"/>
<circle cx="460.6" cy="342.0" r="3.1" fill="rgb(80,80,80)"/>
<circle cx="466.9" cy="343.4" r="3.1" fill="rgb(60,60,60)"/>
<circle cx="456.4" cy="343.4" r="3.1" fill="rgb(100,100,100)"/>
<circle cx="485.8" cy="340.6" r="3.1" fill="rgb(100,100,100)"/>
<circle cx="492.8" cy="342.0" r="3.1" fill="rgb(130,130,130)"/>
<circle cx="499.8" cy="340.6" r="3.1" fill="rgb(120,120,120)"/>
<circle cx="498.4" cy="344.1" r="3.1" fill="rgb(150,150,150)"/>
<circle cx="481.6" cy="344.8" r="3.1" fill="rgb(150,150,150)"/>
<circle cx="511.0" cy="341.3" r="3.1" fill="rgb(110,110,110)"/>
<circle cx="515.2" cy="343.4" r="3.1" fill="rgb(150,150,150)"/>
<circle cx="518.0" cy="347.6" r="3.1" fill="rgb(160,160,160)"/>
<circle cx="523.6" cy="344.8" r="3.1" fill="rgb(150,150,150)"/>
<circle cx="457.8" cy="349.7" r="3.1" fill="rgb(100,100,100)"/>
<circle cx="470.4" cy="349.0" r="3.1" fill="rgb(160,160,160)"/>
<circle cx="475.3" cy="351.8" r="3.1" fill="rgb(160,160,160)"/>
<circle cx="481.6" cy="351.1" r="3.1" fill="rgb(160,160,160)"/>
<circle cx="488.6" cy="350.4" r="3.1" fill="rgb(150,150,150)"/>
<circle cx="493.5" cy="348.3" r="3.1" fill="rgb(160,160,160)"/>
<circle cx="607.5" cy="349.8" r="3.1" fill="rgb(165,165,165)"/>
<circle cx="613.1" cy="349.8" r="3.1" fill="rgb(160,160,160)"/>
<circle cx="624.4" cy="349.8" r="3.1" fill="rgb(165,165,165)"/>
<circle cx="630.6" cy="349.8" r="3.1" fill="rgb(165,165,165)"/>
<circle cx="638.1" cy="326.6" r="3.1" fill="rgb(160,160,160)"/>
<circle cx="645.6" cy="327.2" r="3.1" fill="rgb(170,170,170)"/>
<circle cx="637.5" cy="339.8" r="3.1" fill="rgb(160,160,160)"/>
<circle cx="663.1" cy="353.5" r="3.1" fill="rgb(160,160,160)"/>
<circle cx="671.2" cy="351.0" r="3.1" fill="rgb(160,160,160)"/>
<circle cx="673.1" cy="346.0" r="3.1" fill="rgb(160,160,160)"/>
<circle cx="677.5" cy="345.4" r="3.1" fill="rgb(150,150,150)"/>
<circle cx="680.6" cy="341.0" r="3.1" fill="rgb(120,120,120)"/>
<circle cx="680.0" cy="337.2" r="3.1" fill="rgb(120,120,120)"/>
<circle cx="680.0" cy="333.5" r="3.1" fill="rgb(130,130,130)"/>
<circle cx="681.2" cy="327.2" r="3.1" fill="rgb(150,150,150)"/>
<circle cx="685.0" cy="333.5" r="3.1" fill="rgb(160,160,160)"/>
<circle cx="691.2" cy="333.5" r="3.1" fill="rgb(165,165,165)"/>
<circle cx="695.0" cy="338.5" r="3.1" fill="rgb(160,160,160)"/>
<circle cx="700.0" cy="338.5" r="3.1" fill="rgb(160,160,160)"/>
<circle cx="703.8" cy="338.5" r="3.1" fill="rgb(160,160,160)"/>
<circle cx="705.6" cy="338.5" r="3.1" fill="rgb(165,165,165)"/>
<circle cx="732.5" cy="317.9" r="3.1" fill="rgb(110,110,110)"/>
<circle cx="738.1" cy="318.5" r="3.1" fill="rgb(130,130,130)"/>
<circle cx="731.9" cy="323.5" r="3.1" fill="rgb(100,100,100)"/>
<circle cx="745.0" cy="321.0" r="3.1" fill="rgb(160,160,160)"/>
<circle cx="738.8" cy="322.2" r="3.1" fill="rgb(120,120,120)"/>
<circle cx="725.0" cy="327.2" r="3.1" fill="rgb(140,140,140)"/>
<circle cx="722.5" cy="330.4" r="3.1" fill="rgb(120,120,120)"/>
<circle cx="727.5" cy="329.8" r="3.1" fill="rgb(150,150,150)"/>
<circle cx="731.2" cy="328.5" r="3.1" fill="rgb(110,110,110)"/>
<circle cx="733.8" cy="332.2" r="3.1" fill="rgb(150,150,150)"/>
<circle cx="736.2" cy="331.6" r="3.1" fill="rgb(140,140,140)"/>
<circle cx="745.0" cy="327.9" r="3.1" fill="rgb(100,100,100)"/>
<circle cx="752.5" cy="324.8" r="3.1" fill="rgb(150,150,150)"/>
<circle cx="755.0" cy="329.8" r="3.1" fill="rgb(160,160,160)"/>
<circle cx="760.0" cy="330.4" r="3.1" fill="rgb(150,150,150)"/>
<circle cx="763.1" cy="333.5" r="3.1" fill="rgb(150,150,150)"/>
<circle cx="763.8" cy="337.2" r="3.1" fill="rgb(150,150,150)"/>
<circle cx="741.2" cy="332.2" r="3.1" fill="rgb(100,100,100)"/>
<circle cx="740.6" cy="337.2" r="3.1" fill="rgb(110,110,110)"/>
<circle cx="745.0" cy="337.2" r="3.1" fill="rgb(150,150,150)"/>
<circle cx="749.4" cy="339.1" r="3.1" fill="rgb(160,160,160)"/>
<circle cx="724.4" cy="337.2" r="3.1" fill="rgb(90,90,90)"/>
<circle cx="723.1" cy="339.8" r="3.1" fill="rgb(80,80,80)"/>
<circle cx="722.5" cy="342.9" r="3.1" fill="rgb(150,150,150)"/>
<circle cx="740.6" cy="347.2" r="3.1" fill="rgb(170,170,170)"/>
<circle cx="728.0" cy="325.0" r="3.1" fill="rgb(140,140,140)"/>
<circle cx="735.0" cy="326.0" r="3.1" fill="rgb(130,130,130)"/>
<circle cx="730.0" cy="333.0" r="3.1" fill="rgb(150,150,150)"/>
<circle cx="742.0" cy="326.0" r="3.1" fill="rgb(120,120,120)"/>
<circle cx="748.0" cy="333.0" r="3.1" fill="rgb(160,160,160)"/>
<circle cx="757.0" cy="333.0" r="3.1" fill="rgb(155,155,155)"/>
<circle cx="727.0" cy="334.0" r="3.1" fill="rgb(120,120,120)"/>
<circle cx="734.0" cy="320.0" r="3.1" fill="rgb(115,115,115)"/>
<circle cx="662.5" cy="104.4" r="3.1" fill="rgb(140,140,140)"/>
<circle cx="665.0" cy="105.6" r="3.1" fill="rgb(130,130,130)"/>
<circle cx="670.6" cy="106.2" r="3.1" fill="rgb(130,130,130)"/>
<circle cx="678.8" cy="105.0" r="3.1" fill="rgb(170,170,170)"/>
<circle cx="652.5" cy="116.2" r="3.1" fill="rgb(160,160,160)"/>
<circle cx="653.1" cy="119.4" r="3.1" fill="rgb(150,150,150)"/>
<circle cx="661.2" cy="114.4" r="3.1" fill="rgb(170,170,170)"/>
<circle cx="660.6" cy="118.1" r="3.1" fill="rgb(165,165,165)"/>
<circle cx="665.0" cy="122.5" r="3.1" fill="rgb(130,130,130)"/>
<circle cx="653.1" cy="133.8" r="3.1" fill="rgb(120,120,120)"/>
<circle cx="654.4" cy="136.2" r="3.1" fill="rgb(140,140,140)"/>
<circle cx="658.1" cy="135.6" r="3.1" fill="rgb(160,160,160)"/>
<circle cx="665.6" cy="136.9" r="3.1" fill="rgb(130,130,130)"/>
<circle cx="666.2" cy="139.4" r="3.1" fill="rgb(170,170,170)"/>
<circle cx="670.5" cy="166.2" r="3.1" fill="rgb(160,160,160)"/>
<circle cx="669.7" cy="186.5" r="3.1" fill="rgb(120,120,120)"/>
<circle cx="668.2" cy="189.5" r="3.1" fill="rgb(130,130,130)"/>
<circle cx="666.0" cy="191.7" r="3.1" fill="rgb(150,150,150)"/>
<circle cx="718.1" cy="111.9" r="3.1" fill="rgb(165,165,165)"/>
<circle cx="721.9" cy="115.0" r="3.1" fill="rgb(165,165,165)"/>
<circle cx="716.9" cy="115.6" r="3.1" fill="rgb(160,160,160)"/>
<circle cx="716.2" cy="121.2" r="3.1" fill="rgb(160,160,160)"/>
<circle cx="714.4" cy="122.5" r="3.1" fill="rgb(160,160,160)"/>
<circle cx="708.8" cy="130.6" r="3.1" fill="rgb(155,155,155)"/>
<circle cx="712.5" cy="130.0" r="3.1" fill="rgb(160,160,160)"/>
<circle cx="743.1" cy="112.5" r="3.1" fill="rgb(165,165,165)"/>
<circle cx="743.8" cy="131.2" r="3.1" fill="rgb(160,160,160)"/>
<circle cx="744.4" cy="133.1" r="3.1" fill="rgb(160,160,160)"/>
<circle cx="412.5" cy="104.4" r="3.1" fill="rgb(140,140,140)"/>
<circle cx="417.5" cy="103.1" r="3.1" fill="rgb(160,160,160)"/>
<circle cx="414.4" cy="109.4" r="3.1" fill="rgb(90,90,90)"/>
<circle cx="410.6" cy="115.0" r="3.1" fill="rgb(130,130,130)"/>
<circle cx="415.0" cy="115.0" r="3.1" fill="rgb(140,140,140)"/>
<circle cx="421.2" cy="113.8" r="3.1" fill="rgb(160,160,160)"/>
<circle cx="420.6" cy="120.0" r="3.1" fill="rgb(60,60,60)"/>
<circle cx="413.8" cy="122.5" r="3.1" fill="rgb(140,140,140)"/>
<circle cx="420.0" cy="128.8" r="3.1" fill="rgb(110,110,110)"/>
<circle cx="441.2" cy="119.4" r="3.1" fill="rgb(150,150,150)"/>
<circle cx="440.6" cy="128.8" r="3.1" fill="rgb(130,130,130)"/>
<circle cx="441.2" cy="130.6" r="3.1" fill="rgb(100,100,100)"/>
<circle cx="474.4" cy="122.5" r="3.1" fill="rgb(170,170,170)"/>
<circle cx="473.8" cy="126.9" r="3.1" fill="rgb(140,140,140)"/>
<circle cx="473.8" cy="138.1" r="3.1" fill="rgb(100,100,100)"/>
<circle cx="480.0" cy="108.8" r="3.1" fill="rgb(170,170,170)"/>
<circle cx="489.4" cy="133.1" r="3.1" fill="rgb(170,170,170)"/>
<circle cx="490.0" cy="139.4" r="3.1" fill="rgb(165,165,165)"/>
</g>
<g stroke="#000" stroke-width="0.69" stroke-dasharray="1.3889 4.1667" fill="none">
<line x1="115.5" y1="355.5" x2="115.5" y2="102.5"/>
<line x1="143.5" y1="355.5" x2="143.5" y2="102.5"/>
<line x1="172.5" y1="355.5" x2="172.5" y2="102.5"/>
<line x1="200.5" y1="355.5" x2="200.5" y2="102.5"/>
<line x1="228.5" y1="355.5" x2="228.5" y2="102.5"/>
<line x1="257.5" y1="355.5" x2="257.5" y2="102.5"/>
<line x1="285.5" y1="355.5" x2="285.5" y2="102.5"/>
<line x1="314.5" y1="355.5" x2="314.5" y2="102.5"/>
<line x1="342.5" y1="355.5" x2="342.5" y2="102.5"/>
<line x1="370.5" y1="355.5" x2="370.5" y2="102.5"/>
<line x1="399.5" y1="355.5" x2="399.5" y2="102.5"/>
<line x1="427.5" y1="355.5" x2="427.5" y2="102.5"/>
<line x1="456.5" y1="355.5" x2="456.5" y2="102.5"/>
<line x1="484.5" y1="355.5" x2="484.5" y2="102.5"/>
<line x1="512.5" y1="355.5" x2="512.5" y2="102.5"/>
<line x1="541.5" y1="355.5" x2="541.5" y2="102.5"/>
<line x1="569.5" y1="355.5" x2="569.5" y2="102.5"/>
<line x1="598.5" y1="355.5" x2="598.5" y2="102.5"/>
<line x1="626.5" y1="355.5" x2="626.5" y2="102.5"/>
<line x1="654.5" y1="355.5" x2="654.5" y2="102.5"/>
<line x1="683.5" y1="355.5" x2="683.5" y2="102.5"/>
<line x1="711.5" y1="355.5" x2="711.5" y2="102.5"/>
<line x1="740.5" y1="355.5" x2="740.5" y2="102.5"/>
<line x1="86.5" y1="109.5" x2="768.5" y2="109.5"/>
<line x1="86.5" y1="144.5" x2="768.5" y2="144.5"/>
<line x1="86.5" y1="179.5" x2="768.5" y2="179.5"/>
<line x1="86.5" y1="214.5" x2="768.5" y2="214.5"/>
<line x1="86.5" y1="249.5" x2="768.5" y2="249.5"/>
<line x1="86.5" y1="284.5" x2="768.5" y2="284.5"/>
<line x1="86.5" y1="320.5" x2="768.5" y2="320.5"/>
</g>
<g stroke="#000" stroke-width="0.69">
<line x1="115.5" y1="355.5" x2="115.5" y2="349.50"/>
<line x1="115.5" y1="102.5" x2="115.5" y2="108.50"/>
<line x1="143.5" y1="355.5" x2="143.5" y2="349.50"/>
<line x1="143.5" y1="102.5" x2="143.5" y2="108.50"/>
<line x1="172.5" y1="355.5" x2="172.5" y2="349.50"/>
<line x1="172.5" y1="102.5" x2="172.5" y2="108.50"/>
<line x1="200.5" y1="355.5" x2="200.5" y2="349.50"/>
<line x1="200.5" y1="102.5" x2="200.5" y2="108.50"/>
<line x1="228.5" y1="355.5" x2="228.5" y2="349.50"/>
<line x1="228.5" y1="102.5" x2="228.5" y2="108.50"/>
<line x1="257.5" y1="355.5" x2="257.5" y2="349.50"/>
<line x1="257.5" y1="102.5" x2="257.5" y2="108.50"/>
<line x1="285.5" y1="355.5" x2="285.5" y2="349.50"/>
<line x1="285.5" y1="102.5" x2="285.5" y2="108.50"/>
<line x1="314.5" y1="355.5" x2="314.5" y2="349.50"/>
<line x1="314.5" y1="102.5" x2="314.5" y2="108.50"/>
<line x1="342.5" y1="355.5" x2="342.5" y2="349.50"/>
<line x1="342.5" y1="102.5" x2="342.5" y2="108.50"/>
<line x1="370.5" y1="355.5" x2="370.5" y2="349.50"/>
<line x1="370.5" y1="102.5" x2="370.5" y2="108.50"/>
<line x1="399.5" y1="355.5" x2="399.5" y2="349.50"/>
<line x1="399.5" y1="102.5" x2="399.5" y2="108.50"/>
<line x1="427.5" y1="355.5" x2="427.5" y2="349.50"/>
<line x1="427.5" y1="102.5" x2="427.5" y2="108.50"/>
<line x1="456.5" y1="355.5" x2="456.5" y2="349.50"/>
<line x1="456.5" y1="102.5" x2="456.5" y2="108.50"/>
<line x1="484.5" y1="355.5" x2="484.5" y2="349.50"/>
<line x1="484.5" y1="102.5" x2="484.5" y2="108.50"/>
<line x1="512.5" y1="355.5" x2="512.5" y2="349.50"/>
<line x1="512.5" y1="102.5" x2="512.5" y2="108.50"/>
<line x1="541.5" y1="355.5" x2="541.5" y2="349.50"/>
<line x1="541.5" y1="102.5" x2="541.5" y2="108.50"/>
<line x1="569.5" y1="355.5" x2="569.5" y2="349.50"/>
<line x1="569.5" y1="102.5" x2="569.5" y2="108.50"/>
<line x1="598.5" y1="355.5" x2="598.5" y2="349.50"/>
<line x1="598.5" y1="102.5" x2="598.5" y2="108.50"/>
<line x1="626.5" y1="355.5" x2="626.5" y2="349.50"/>
<line x1="626.5" y1="102.5" x2="626.5" y2="108.50"/>
<line x1="654.5" y1="355.5" x2="654.5" y2="349.50"/>
<line x1="654.5" y1="102.5" x2="654.5" y2="108.50"/>
<line x1="683.5" y1="355.5" x2="683.5" y2="349.50"/>
<line x1="683.5" y1="102.5" x2="683.5" y2="108.50"/>
<line x1="711.5" y1="355.5" x2="711.5" y2="349.50"/>
<line x1="711.5" y1="102.5" x2="711.5" y2="108.50"/>
<line x1="740.5" y1="355.5" x2="740.5" y2="349.50"/>
<line x1="740.5" y1="102.5" x2="740.5" y2="108.50"/>
<line x1="86.5" y1="109.5" x2="92.50" y2="109.5"/>
<line x1="768.5" y1="109.5" x2="762.50" y2="109.5"/>
<line x1="86.5" y1="144.5" x2="92.50" y2="144.5"/>
<line x1="768.5" y1="144.5" x2="762.50" y2="144.5"/>
<line x1="86.5" y1="179.5" x2="92.50" y2="179.5"/>
<line x1="768.5" y1="179.5" x2="762.50" y2="179.5"/>
<line x1="86.5" y1="214.5" x2="92.50" y2="214.5"/>
<line x1="768.5" y1="214.5" x2="762.50" y2="214.5"/>
<line x1="86.5" y1="249.5" x2="92.50" y2="249.5"/>
<line x1="768.5" y1="249.5" x2="762.50" y2="249.5"/>
<line x1="86.5" y1="284.5" x2="92.50" y2="284.5"/>
<line x1="768.5" y1="284.5" x2="762.50" y2="284.5"/>
<line x1="86.5" y1="320.5" x2="92.50" y2="320.5"/>
<line x1="768.5" y1="320.5" x2="762.50" y2="320.5"/>
</g>
<rect x="86.5" y="102.5" width="682" height="253" fill="none" stroke="#000" stroke-width="1.39"/>
<g font-family="'DejaVu Sans','Liberation Sans',sans-serif" font-size="19.44px" fill="#000">
<text x="82.4" y="359.94" text-anchor="end">0</text>
<text x="82.4" y="324.81" text-anchor="end">50</text>
<text x="82.4" y="289.69" text-anchor="end">100</text>
<text x="82.4" y="254.56" text-anchor="end">150</text>
<text x="82.4" y="219.44" text-anchor="end">200</text>
<text x="82.4" y="184.31" text-anchor="end">250</text>
<text x="82.4" y="149.19" text-anchor="end">300</text>
<text x="82.4" y="114.06" text-anchor="end">350</text>
<text x="86.40" y="374.5" text-anchor="middle">00</text>
<text x="114.80" y="374.5" text-anchor="middle">01</text>
<text x="143.20" y="374.5" text-anchor="middle">02</text>
<text x="171.60" y="374.5" text-anchor="middle">03</text>
<text x="200.00" y="374.5" text-anchor="middle">04</text>
<text x="228.40" y="374.5" text-anchor="middle">05</text>
<text x="256.80" y="374.5" text-anchor="middle">06</text>
<text x="285.20" y="374.5" text-anchor="middle">07</text>
<text x="313.60" y="374.5" text-anchor="middle">08</text>
<text x="342.00" y="374.5" text-anchor="middle">09</text>
<text x="370.40" y="374.5" text-anchor="middle">10</text>
<text x="398.80" y="374.5" text-anchor="middle">11</text>
<text x="427.20" y="374.5" text-anchor="middle">12</text>
<text x="455.60" y="374.5" text-anchor="middle">13</text>
<text x="484.00" y="374.5" text-anchor="middle">14</text>
<text x="512.40" y="374.5" text-anchor="middle">15</text>
<text x="540.80" y="374.5" text-anchor="middle">16</text>
<text x="569.20" y="374.5" text-anchor="middle">17</text>
<text x="597.60" y="374.5" text-anchor="middle">18</text>
<text x="626.00" y="374.5" text-anchor="middle">19</text>
<text x="654.40" y="374.5" text-anchor="middle">20</text>
<text x="682.80" y="374.5" text-anchor="middle">21</text>
<text x="711.20" y="374.5" text-anchor="middle">22</text>
<text x="739.60" y="374.5" text-anchor="middle">23</text>
<text x="768.00" y="374.5" text-anchor="middle">00</text>
<text transform="translate(35.2,228.35) rotate(-90)" text-anchor="middle" font-size="19.56px">Wind direction (°)</text>
</g>
<text x="427.9" y="41.9" text-anchor="middle" font-family="'DejaVu Sans','Liberation Sans',sans-serif" font-size="23.38px">Latest time: 2025-12-01 00:00:00 UTC</text>
<rect x="231.5" y="55.5" width="392" height="35" fill="#fff" stroke="#000" stroke-width="1.39"/>
<circle cx="245.0" cy="72.8" r="3.15" fill="#000"/>
<circle cx="258.5" cy="71.0" r="3.15" fill="#000"/>
<circle cx="272.3" cy="73.6" r="3.15" fill="#000"/>
<text x="294.2" y="77.9" font-family="'DejaVu Sans','Liberation Sans',sans-serif" font-size="19.5px">Resultant wind direction (31.14°)</text>
</svg>
</body></html>
